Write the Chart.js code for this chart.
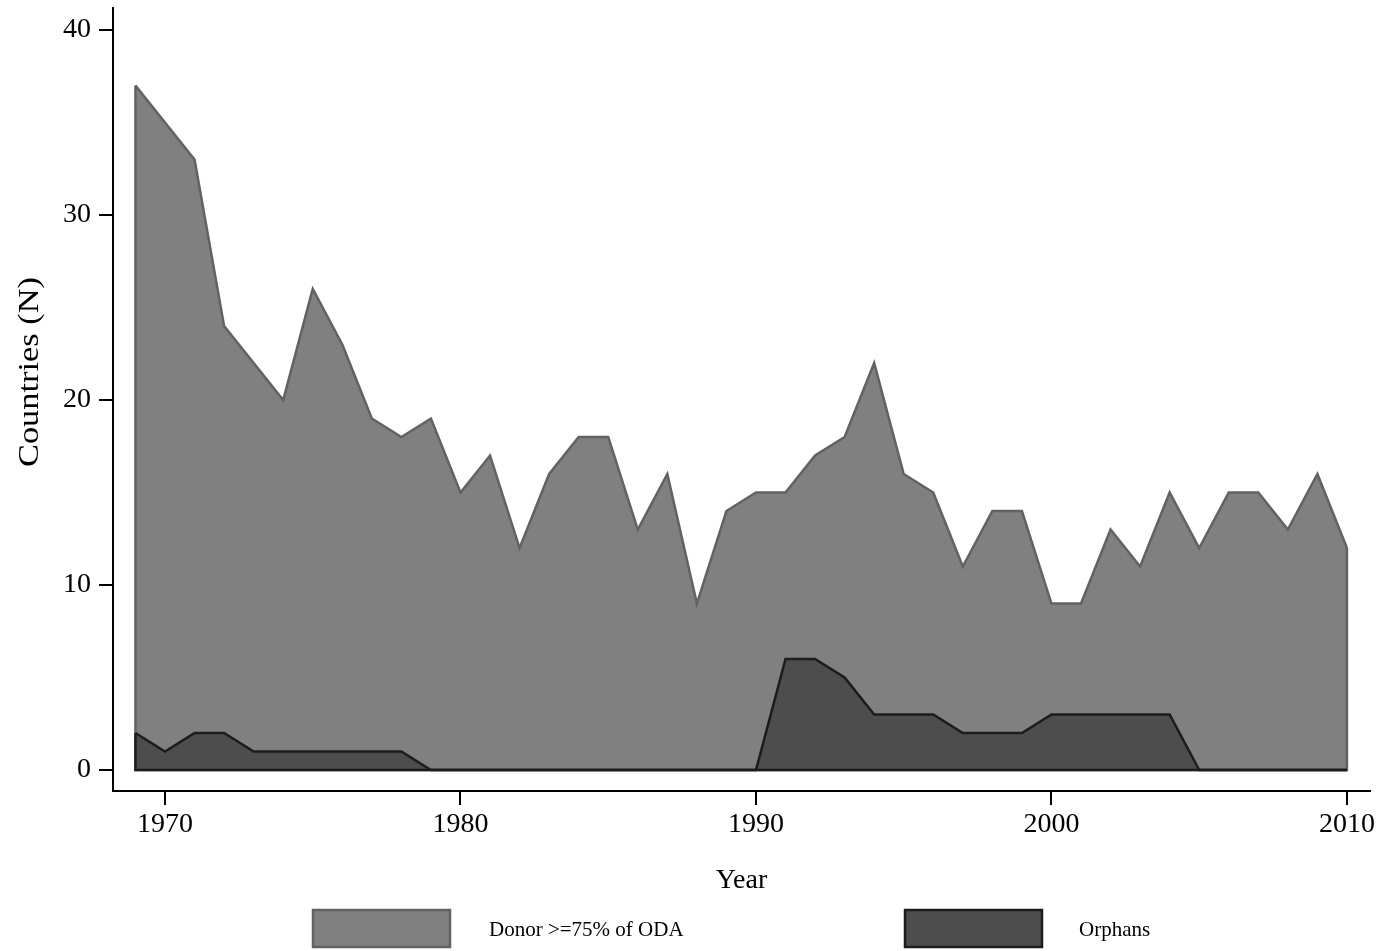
<!DOCTYPE html>
<html>
<head>
<meta charset="utf-8">
<script src="https://cdn.jsdelivr.net/npm/chart.js@4/dist/chart.umd.min.js"></script>
<style>
html,body{margin:0;padding:0;background:#fff;}
canvas{display:block;}
</style>
</head>
<body>
<canvas id="c" width="1384" height="951"></canvas>
<script>
const years = [1969,1970,1971,1972,1973,1974,1975,1976,1977,1978,1979,1980,1981,1982,1983,1984,1985,1986,1987,1988,1989,1990,1991,1992,1993,1994,1995,1996,1997,1998,1999,2000,2001,2002,2003,2004,2005,2006,2007,2008,2009,2010];
const donorValues = [37,35,33,24,22,20,26,23,19,18,19,15,17,12,16,18,18,13,16,9,14,15,15,17,18,22,16,15,11,14,14,9,9,13,11,15,12,15,15,13,16,12];
const orphanValues = [2,1,2,2,1,1,1,1,1,1,0,0,0,0,0,0,0,0,0,0,0,0,6,6,5,3,3,3,2,2,2,3,3,3,3,3,0,0,0,0,0,0];
const xTicks = [1970,1980,1990,2000,2010];
const yTicks = [0,10,20,30,40];
const seriesLabels = ['Donor >=75% of ODA','Orphans'];
const xTitle = 'Year';
const yTitle = 'Countries (N)';

const FONT = "'Liberation Serif', 'Times New Roman', serif";

const closeOutline = {
  id: 'closeOutline',
  afterDatasetDraw(chart, args) {
    const ds = chart.data.datasets[args.index];
    const pts = args.meta.data;
    if (!pts.length) return;
    const ctx = chart.ctx;
    const y0 = chart.scales.y.getPixelForValue(0);
    const a = pts[0], b = pts[pts.length - 1];
    ctx.save();
    ctx.strokeStyle = ds.borderColor;
    ctx.lineWidth = ds.borderWidth;
    ctx.lineJoin = 'miter';
    ctx.beginPath();
    ctx.moveTo(b.x, b.y);
    ctx.lineTo(b.x, y0);
    ctx.lineTo(a.x, y0);
    ctx.lineTo(a.x, a.y);
    ctx.stroke();
    ctx.restore();
  }
};

const decorations = {
  id: 'decorations',
  afterDraw(chart) {
    const ctx = chart.ctx;
    const area = chart.chartArea;
    ctx.save();
    ctx.fillStyle = '#000';
    // x title
    ctx.font = '28px ' + FONT;
    ctx.textAlign = 'center';
    ctx.textBaseline = 'alphabetic';
    ctx.fillText(xTitle, (area.left + area.right) / 2, 888);
    // y title (rotated, stretched to match)
    ctx.save();
    ctx.translate(30, 372);
    ctx.rotate(-Math.PI / 2);
    ctx.font = '29px ' + FONT;
    const w = ctx.measureText(yTitle).width;
    ctx.scale(190 / w, 1);
    ctx.textAlign = 'center';
    ctx.textBaseline = 'middle';
    ctx.fillText(yTitle, 0, 0);
    ctx.restore();
    // legend
    const boxes = [{x: 313, tx: 489}, {x: 905, tx: 1079}];
    chart.data.datasets.forEach((ds, i) => {
      const p = boxes[i];
      ctx.fillStyle = ds.backgroundColor;
      ctx.fillRect(p.x, 910, 137, 37);
      ctx.strokeStyle = ds.borderColor;
      ctx.lineWidth = 2.5;
      ctx.strokeRect(p.x, 910, 137, 37);
      ctx.fillStyle = '#000';
      ctx.font = '21px ' + FONT;
      ctx.textAlign = 'left';
      ctx.textBaseline = 'middle';
      ctx.fillText(ds.label, p.tx, 930);
    });
    ctx.restore();
  }
};

new Chart(document.getElementById('c'), {
  type: 'line',
  data: {
    datasets: [
      {
        label: seriesLabels[0],
        data: years.map((y, i) => ({x: y, y: donorValues[i]})),
        backgroundColor: 'rgb(128,128,128)',
        borderColor: 'rgb(98,98,98)',
        borderWidth: 2.5,
        fill: 'origin',
        pointRadius: 0,
        tension: 0,
        order: 2
      },
      {
        label: seriesLabels[1],
        data: years.map((y, i) => ({x: y, y: orphanValues[i]})),
        backgroundColor: 'rgb(77,77,77)',
        borderColor: 'rgb(28,28,28)',
        borderWidth: 2.5,
        fill: 'origin',
        pointRadius: 0,
        tension: 0,
        order: 1
      }
    ]
  },
  options: {
    responsive: false,
    devicePixelRatio: 1,
    animation: false,
    layout: {padding: {top: 8, right: 14, left: 0, bottom: 0}},
    plugins: {legend: {display: false}, tooltip: {enabled: false}},
    scales: {
      x: {
        type: 'linear',
        min: 1968.24,
        max: 2010.78,
        afterBuildTicks(s) { s.ticks = xTicks.map(v => ({value: v})); },
        afterFit(s) { s.height = 160; s.paddingLeft = 0; s.paddingRight = 0; },
        grid: {drawOnChartArea: false, drawTicks: true, tickLength: 14, color: '#000', lineWidth: 2},
        border: {display: true, color: '#000', width: 2},
        ticks: {
          color: '#000', padding: 3, maxRotation: 0, autoSkip: false,
          font: {family: FONT, size: 28},
          callback: v => String(v)
        }
      },
      y: {
        type: 'linear',
        min: -1.135,
        max: 41.19,
        afterBuildTicks(s) { s.ticks = yTicks.map(v => ({value: v})); },
        afterFit(s) { s.width = 113; s.paddingTop = 0; s.paddingBottom = 0; },
        grid: {drawOnChartArea: false, drawTicks: true, tickLength: 14, color: '#000', lineWidth: 2},
        border: {display: true, color: '#000', width: 2},
        ticks: {
          color: '#000', padding: 8,
          font: {family: FONT, size: 28},
          callback: v => String(v)
        }
      }
    }
  },
  plugins: [closeOutline, decorations]
});
</script>
</body>
</html>
